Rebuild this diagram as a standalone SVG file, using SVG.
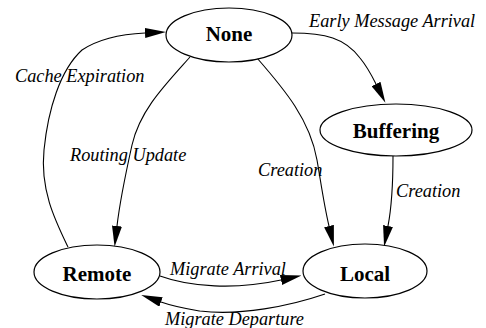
<svg xmlns="http://www.w3.org/2000/svg" width="486" height="328" viewBox="0 0 486 328">
<style>
.node ellipse{fill:#fff;stroke:#000;stroke-width:1.2}
.node text{font-family:'Liberation Serif','Times New Roman',Tinos,'DejaVu Serif',serif;font-weight:bold;font-size:21px;text-anchor:middle;fill:#000}
.edge path{fill:none;stroke:#000;stroke-width:1.1}
.lbl{font-family:'Liberation Serif','Times New Roman',Tinos,'DejaVu Serif',serif;font-style:italic;font-size:18.3px;fill:#000}
</style>
<defs>
<marker id="ah" viewBox="0 0 21 10" refX="0" refY="5" markerWidth="21" markerHeight="10" markerUnits="userSpaceOnUse" orient="auto">
<path d="M0,0 L21,5 L0,10 z" fill="#000"/>
</marker>
</defs>
<rect width="486" height="328" fill="#fff"/>
<g id="edges" class="edge">
<path marker-end="url(#ah)" d="M68,247 C55,220 40,190 44,150 C48,110 60,70 82,50 C100,38 125,34 145,33"/>
<path marker-end="url(#ah)" d="M190,57 C165,85 140,110 132,145 C126,172 120,200 117,226"/>
<path marker-end="url(#ah)" d="M257,58 C285,90 310,120 317,160 C321,183 324,205 329,226"/>
<path marker-end="url(#ah)" d="M292,33 C325,33 345,38 360,58 C365,64 370,72 376,84"/>
<path marker-end="url(#ah)" d="M393,156 C393,185 392,205 388,226"/>
<path marker-end="url(#ah)" d="M160,276 C190,287 235,290 281,280"/>
<path marker-end="url(#ah)" d="M325,294 C290,306 240,316 200,311 C188,309 175,307 161,302"/>
</g>
<g id="labels">
<text class="lbl" x="309" y="27" font-family="Liberation Serif, serif">Early Message Arrival</text>
<text class="lbl" x="15" y="82" font-family="Liberation Serif, serif">Cache Expiration</text>
<text class="lbl" x="70" y="161" font-family="Liberation Serif, serif">Routing Update</text>
<text class="lbl" x="258" y="176" font-family="Liberation Serif, serif">Creation</text>
<text class="lbl" x="396" y="197" font-family="Liberation Serif, serif">Creation</text>
<text class="lbl" x="170" y="275" font-family="Liberation Serif, serif">Migrate Arrival</text>
<text class="lbl" x="165" y="325" font-family="Liberation Serif, serif">Migrate Departure</text>
</g>
<g id="node-none" class="node"><ellipse cx="229" cy="35" rx="63" ry="27"/><text x="229" y="41">None</text></g>
<g id="node-buffering" class="node"><ellipse cx="396" cy="130" rx="76" ry="26"/><text x="396" y="138">Buffering</text></g>
<g id="node-remote" class="node"><ellipse cx="97" cy="272" rx="63" ry="27"/><text x="97" y="281">Remote</text></g>
<g id="node-local" class="node"><ellipse cx="365" cy="271" rx="62" ry="27"/><text x="365" y="281">Local</text></g>
</svg>
